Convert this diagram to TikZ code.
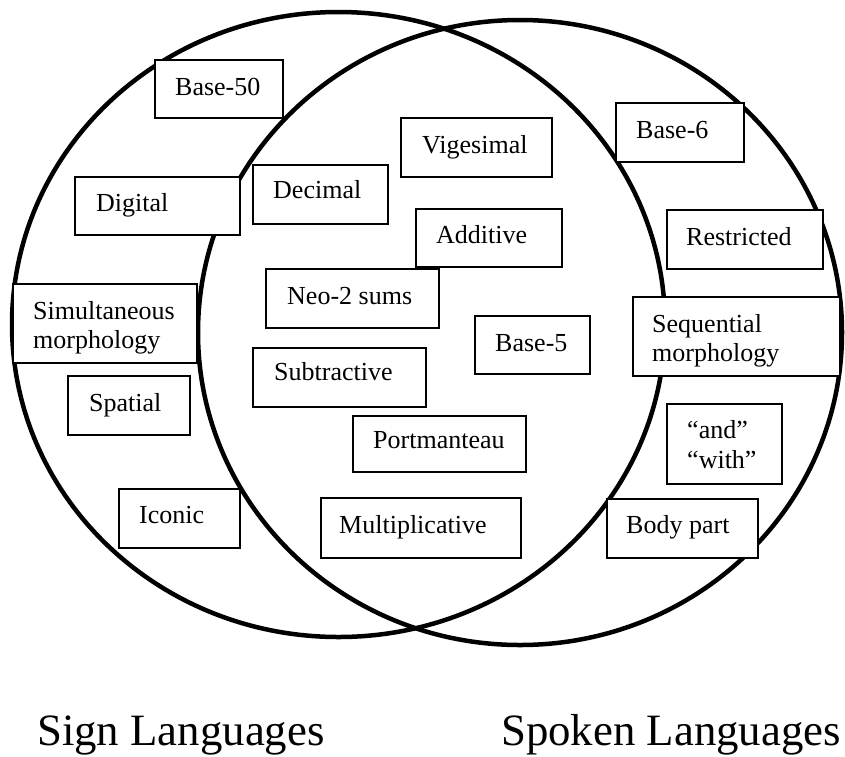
\documentclass[tikz,border=0pt]{standalone}
\usepackage{fontspec}
\setmainfont{Liberation Serif}
\usetikzlibrary{fit}
\begin{document}
\begin{tikzpicture}[x=1pt,y=-1pt,
  ring/.style={line width=4.5pt},
  box/.style={draw, line width=1.6pt, fill=white, inner sep=0pt},
  lbl/.style={inner sep=0pt, font=\fontsize{26}{30}\selectfont, anchor=base west},
  heading/.style={inner sep=0pt, font=\fontsize{44.8}{50}\selectfont, anchor=base west}]
\useasboundingbox (0,0) rectangle (845,756);

% the two overlapping sets
\draw[ring] (338.5,324.5) ellipse [x radius=326.5pt, y radius=312.5pt];
\draw[ring] (520,332.5) ellipse [x radius=322pt, y radius=312.5pt];

% feature boxes
\node[box, fit={(155,60) (283,118)}] (base50) {};
\node[box, fit={(401,118) (552,177)}] (vigesimal) {};
\node[box, fit={(616,103) (744,162)}] (base6) {};
\node[box, fit={(75,177) (240,235)}] (digital) {};
\node[box, fit={(253,165) (388,224)}] (decimal) {};
\node[box, fit={(416,209) (562,267)}] (additive) {};
\node[box, fit={(667,210) (823,269)}] (restricted) {};
\node[box, fit={(266,269) (439,328)}] (neo2) {};
\node[box, fit={(13,284) (197,363)}] (simult) {};
\node[box, fit={(475,316) (590,374)}] (base5) {};
\node[box, fit={(633,297) (840,376)}] (sequential) {};
\node[box, fit={(253,348) (426,407)}] (subtractive) {};
\node[box, fit={(68,376) (190,435)}] (spatial) {};
\node[box, fit={(353,416) (526,472)}] (portmanteau) {};
\node[box, fit={(667,404) (782,484)}] (andwith) {};
\node[box, fit={(119,489) (240,548)}] (iconic) {};
\node[box, fit={(321,498) (521,558)}] (multiplicative) {};
\node[box, fit={(607,499) (758,558)}] (bodypart) {};

% box texts
\node[lbl] (t-base50) at (175,95) {Base-50};
\node[lbl] (t-vigesimal) at (422,153) {Vigesimal};
\node[lbl] (t-base6) at (636,138) {Base-6};
\node[lbl] (t-digital) at (96,211) {Digital};
\node[lbl] (t-decimal) at (273,198) {Decimal};
\node[lbl] (t-additive) at (436,243) {Additive};
\node[lbl] (t-restricted) at (686,245) {Restricted};
\node[lbl] (t-neo2) at (287,304) {Neo-2 sums};
\node[lbl] (t-simult1) at (33,319) {Simultaneous};
\node[lbl] (t-simult2) at (33,348) {morphology};
\node[lbl] (t-base5) at (495,351) {Base-5};
\node[lbl] (t-seq1) at (652,332) {Sequential};
\node[lbl] (t-seq2) at (652,361) {morphology};
\node[lbl] (t-subtractive) at (274,380) {Subtractive};
\node[lbl] (t-spatial) at (89,411) {Spatial};
\node[lbl] (t-portmanteau) at (373,448) {Portmanteau};
\node[lbl] (t-and) at (687,438) {“and”};
\node[lbl] (t-with) at (687,468) {“with”};
\node[lbl] (t-iconic) at (139,523) {Iconic};
\node[lbl] (t-multiplicative) at (339,533) {Multiplicative};
\node[lbl] (t-bodypart) at (626,533) {Body part};

% set names
\node[heading] (sign) at (37,745) {Sign Languages};
\node[heading] (spoken) at (501,745) {Spoken Languages};
\end{tikzpicture}
\end{document}
